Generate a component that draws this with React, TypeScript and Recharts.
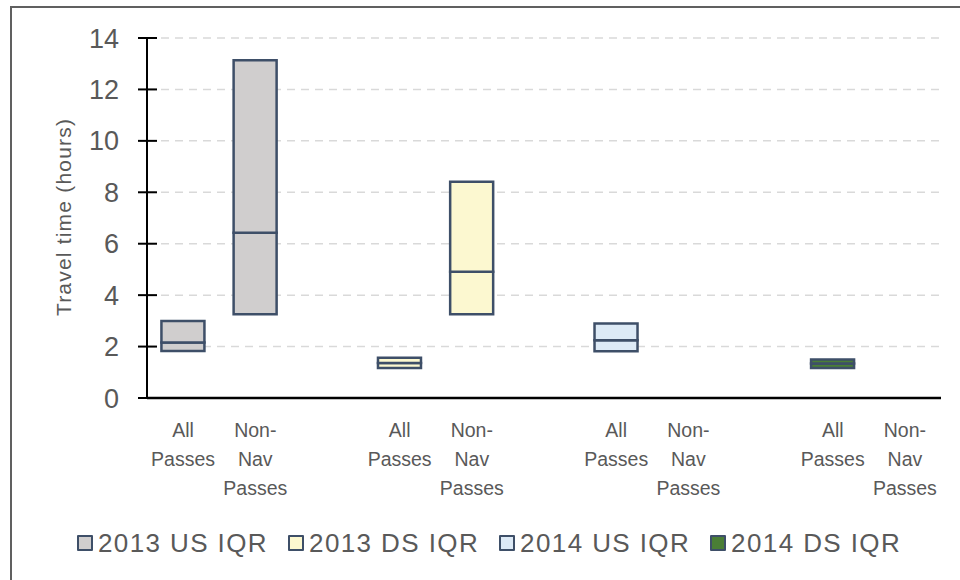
import React from 'react';
import { BarChart, Bar, XAxis, YAxis, CartesianGrid, Cell } from 'recharts';

// category slots, blanks separate the four groups
const categories = ['c1', 'c2', 'gap1', 'c3', 'c4', 'gap2', 'c5', 'c6', 'gap3', 'c7', 'c8'];
const tickLabels = [
  'All Passes', 'Non-Nav Passes', '',
  'All Passes', 'Non-Nav Passes', '',
  'All Passes', 'Non-Nav Passes', '',
  'All Passes', 'Non-Nav Passes',
];
// which series each slot belongs to (-1 = empty slot)
const seriesIndex = [0, 0, -1, 1, 1, -1, 2, 2, -1, 3, 3];

// quartiles (hours)
const q1 = [1.83, 3.26, null, 1.17, 3.26, null, 1.82, null, null, 1.17, null];
const median = [2.16, 6.43, null, 1.36, 4.91, null, 2.25, null, null, 1.34, null];
const q3 = [2.99, 13.13, null, 1.57, 8.41, null, 2.9, null, null, 1.5, null];

const seriesNames = ['2013 US IQR', '2013 DS IQR', '2014 US IQR', '2014 DS IQR'];
const seriesColors = ['#D0CECE', '#FCF8D0', '#DDEAF6', '#4A7E36'];
const yTicks = [0, 2, 4, 6, 8, 10, 12, 14];

const edge = '#3E4F68';
const textGray = '#595959';
const font = "'Liberation Sans', Arial, sans-serif";

const data = categories.map((c, i) => ({
  slot: c,
  base: q1[i],
  lower: q1[i] != null && median[i] != null ? median[i]! - q1[i]! : null,
  upper: q3[i] != null && median[i] != null ? q3[i]! - median[i]! : null,
}));

// splits "All Passes" -> All / Passes, "Non-Nav Passes" -> Non- / Nav / Passes
const splitLabel = (s: string) =>
  s.split(' ').flatMap((w) => (w.includes('-') ? [w.slice(0, w.indexOf('-') + 1), w.slice(w.indexOf('-') + 1)] : [w]));

const XTick = (props: any) => {
  const { x, y, payload } = props;
  const lines = splitLabel(tickLabels[payload.index] || '');
  return (
    <text x={x} y={y + 39} textAnchor="middle" fill={textGray} fontSize={19.5} fontFamily={font}>
      {lines.map((l, k) => (
        <tspan key={k} x={x} dy={k === 0 ? 0 : 29}>{l}</tspan>
      ))}
    </text>
  );
};

const YTick = (props: any) => {
  const { x, y, payload } = props;
  return (
    <g>
      <line x1={x - 9} x2={x + 10} y1={y} y2={y} stroke="#000" strokeWidth={2} />
      <text x={x - 28} y={y + 9.5} textAnchor="end" fill={textGray} fontSize={27} fontFamily={font}>
        {payload.value}
      </text>
    </g>
  );
};

const YTitle = () => (
  <text
    x={63}
    y={217}
    transform="rotate(-90 63 217)"
    textAnchor="middle"
    dominantBaseline="central"
    fill={textGray}
    fontSize={21}
    letterSpacing={1.2}
    fontFamily={font}
  >
    Travel time (hours)
  </text>
);

const cellFill = (i: number) => (seriesIndex[i] >= 0 ? seriesColors[seriesIndex[i]] : 'none');

const App: React.FC = () => (
  <div style={{ position: 'absolute', left: 0, top: 0, width: 960, height: 580, background: '#fff', overflow: 'hidden' }}>
    <div style={{ position: 'absolute', left: 10, top: 6, width: 970, height: 600, borderLeft: '2px solid #606060', borderTop: '2px solid #606060' }} />
    <BarChart width={960} height={580} data={data} margin={{ top: 38, right: 19, bottom: 0, left: 0 }} barCategoryGap="20%">
      <CartesianGrid vertical={false} stroke="#D9D9D9" strokeWidth={1.5} strokeDasharray="8 6" />
      <XAxis
        dataKey="slot"
        height={182}
        axisLine={{ stroke: '#000', strokeWidth: 2.5 }}
        tickLine={false}
        tickSize={0}
        tickMargin={0}
        interval={0}
        tick={<XTick />}
      />
      <YAxis
        width={147}
        domain={[0, 14]}
        ticks={yTicks}
        interval={0}
        axisLine={{ stroke: '#000', strokeWidth: 2 }}
        tickLine={false}
        tickSize={0}
        tickMargin={0}
        tick={<YTick />}
        label={<YTitle />}
      />
      <Bar dataKey="base" stackId="box" fill="none" isAnimationActive={false} />
      <Bar dataKey="lower" stackId="box" stroke={edge} strokeWidth={2.5} isAnimationActive={false}>
        {data.map((_, i) => (
          <Cell key={i} fill={cellFill(i)} />
        ))}
      </Bar>
      <Bar dataKey="upper" stackId="box" stroke={edge} strokeWidth={2.5} isAnimationActive={false}>
        {data.map((_, i) => (
          <Cell key={i} fill={cellFill(i)} />
        ))}
      </Bar>
    </BarChart>
    <div
      style={{
        position: 'absolute',
        left: 77,
        top: 527,
        display: 'flex',
        alignItems: 'center',
        fontFamily: font,
        fontSize: 26,
        letterSpacing: 1.4,
        color: textGray,
        whiteSpace: 'nowrap',
      }}
    >
      {seriesNames.map((n, i) => (
        <div key={n} style={{ display: 'flex', alignItems: 'center', marginRight: 20 }}>
          <span
            style={{
              display: 'inline-block',
              width: 12,
              height: 12,
              background: seriesColors[i],
              border: `2.5px solid ${edge}`,
              borderRadius: 1,
              marginRight: 5,
            }}
          />
          <span style={{ lineHeight: '32px' }}>{n}</span>
        </div>
      ))}
    </div>
  </div>
);

export default App;
